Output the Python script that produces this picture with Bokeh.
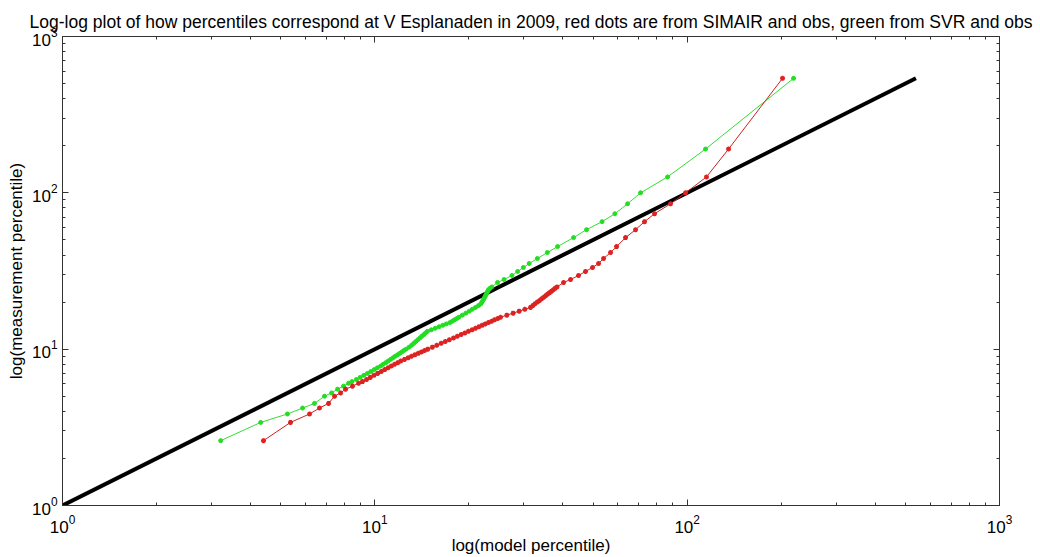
from bokeh.plotting import figure
from bokeh.models import LogAxis, FixedTicker, LogTickFormatter, Range1d
from bokeh.embed import file_html
from bokeh.resources import INLINE

# shared measured (obs) percentiles
obs_percentile = [2.6, 3.4, 3.85, 4.2, 4.5, 5.0, 5.25, 5.55, 5.8, 6.05,
                  6.2, 6.4, 6.6, 6.8, 7.0, 7.2, 7.4, 7.6, 7.8, 8.0, 8.2, 8.4, 8.6, 8.8, 9.0, 9.2, 9.4, 9.6, 9.8, 10.0,
                  10.3, 10.6, 10.9, 11.2, 11.5, 11.8, 12.1, 12.4, 12.7, 13.0, 13.3, 13.6, 13.9, 14.2, 14.5, 14.8, 15.1, 15.4, 15.7, 16.0,
                  16.5, 17.0, 17.5, 18.0, 18.5, 19.0, 19.5, 20.0, 20.5, 21.0, 21.5, 22.0, 22.5, 23.0, 23.5, 24.0, 24.5, 25.0,
                  26.7, 27.9, 29.6, 31.4, 33.3, 35.3, 38.0, 41.5, 45.3, 51.7, 58.1, 65.4, 73.5, 85.1, 100.0, 126.4, 190.6, 540.0]

# SVR model percentiles (green)
svr_percentile = [3.21, 4.31, 5.25, 5.87, 6.41, 6.90, 7.27, 7.60, 7.94, 8.24,
                  8.45, 8.73, 8.98, 9.22, 9.47, 9.71, 9.96, 10.19, 10.44, 10.64, 10.84, 11.04, 11.23, 11.43, 11.62, 11.82, 12.02, 12.20, 12.39, 12.59,
                  12.87, 13.12, 13.33, 13.53, 13.74, 13.95, 14.14, 14.36, 14.54, 14.74, 15.17, 15.61, 16.05, 16.49, 16.93, 17.39, 17.71, 17.99, 18.30, 18.58,
                  19.06, 19.56, 20.06, 20.52, 21.01, 21.48, 21.85, 22.03, 22.19, 22.34, 22.48, 22.61, 22.74, 22.86, 22.99, 23.11, 23.37, 23.68,
                  24.71, 25.93, 27.48, 28.66, 29.89, 31.20, 33.14, 35.68, 38.46, 43.27, 47.62, 53.40, 58.69, 64.45, 70.93, 86.54, 114.5, 219.1]

# SIMAIR model percentiles (red)
simair_percentile = [4.40, 5.37, 6.18, 6.65, 7.11, 7.43, 7.77, 8.06, 8.48, 8.87,
                     9.13, 9.41, 9.67, 9.94, 10.21, 10.49, 10.76, 11.03, 11.30, 11.57, 11.84, 12.11, 12.44, 12.78, 13.10, 13.43, 13.77, 14.10, 14.43, 14.77,
                     15.28, 15.79, 16.31, 16.81, 17.32, 17.86, 18.37, 18.90, 19.42, 19.94, 20.49, 21.01, 21.54, 22.06, 22.57, 23.11, 23.66, 24.16, 24.75, 25.26,
                     26.46, 27.72, 28.98, 30.22, 31.51, 32.06, 32.58, 33.14, 33.69, 34.20, 34.74, 35.25, 35.77, 36.28, 36.80, 37.28, 37.79, 38.30,
                     40.20, 42.33, 44.89, 47.27, 49.78, 52.04, 53.99, 56.85, 59.42, 63.49, 68.35, 73.03, 78.62, 88.48, 98.81, 115.3, 135.7, 202.0]

identity = [1, 540]

major_ticks = [1, 10, 100, 1000]
minor_ticks = [2, 3, 4, 5, 6, 7, 8, 9, 20, 30, 40, 50, 60, 70, 80, 90, 200, 300, 400, 500, 600, 700, 800, 900]

FONT = "Liberation Sans"

p = figure(width=1040, height=557, x_axis_type="log", y_axis_type="log",
           x_range=Range1d(1, 1000), y_range=Range1d(1, 1000),
           output_backend="svg", toolbar_location=None,
           min_border_left=62, min_border_right=41, min_border_top=36, min_border_bottom=50)

p.title.text = "Log-log plot of how percentiles correspond at V Esplanaden in 2009, red dots are from SIMAIR and obs, green from SVR and obs"
p.title.text_font = FONT
p.title.text_font_size = "17.5px"
p.title.text_font_style = "normal"
p.title.align = "center"
p.title.text_color = "black"
p.title.standoff = 9

p.xgrid.visible = False
p.ygrid.visible = False
p.outline_line_color = "#333333"
p.background_fill_color = "white"
p.border_fill_color = "white"

def style_axis(ax, show_labels=True):
    ax.ticker = FixedTicker(ticks=major_ticks, minor_ticks=minor_ticks)
    ax.formatter = LogTickFormatter()
    ax.major_tick_in = 6
    ax.major_tick_out = 0
    ax.minor_tick_in = 3
    ax.minor_tick_out = 0
    ax.axis_line_color = "#333333"
    ax.major_tick_line_color = "#333333"
    ax.minor_tick_line_color = "#333333"
    ax.major_label_text_font = FONT
    ax.major_label_text_color = "black"
    if show_labels:
        ax.major_label_text_font_size = "17px"
    else:
        ax.major_label_text_font_size = "1px"
        ax.major_label_text_alpha = 0
        ax.major_label_standoff = 0

style_axis(p.xaxis[0])
style_axis(p.yaxis[0])
p.xaxis[0].axis_label = "log(model percentile)"
p.yaxis[0].axis_label = "log(measurement percentile)"
for ax in (p.xaxis[0], p.yaxis[0]):
    ax.axis_label_text_font = FONT
    ax.axis_label_text_font_size = "17px"
    ax.axis_label_text_font_style = "normal"
    ax.axis_label_text_color = "black"
p.xaxis[0].major_label_standoff = 9
p.xaxis[0].axis_label_standoff = 0
p.yaxis[0].major_label_standoff = 5
p.yaxis[0].axis_label_standoff = 3

ax_top = LogAxis()
style_axis(ax_top, show_labels=False)
p.add_layout(ax_top, "above")
ax_right = LogAxis()
style_axis(ax_right, show_labels=False)
p.add_layout(ax_right, "right")

# identity line
p.line(identity, identity, line_color="black", line_width=4)

# SVR (green)
p.line(svr_percentile, obs_percentile, line_color="#33dd33", line_width=1)
p.scatter(svr_percentile, obs_percentile, marker="circle", size=4,
          fill_color="#22dd22", line_color="#22dd22")

# SIMAIR (red)
p.line(simair_percentile, obs_percentile, line_color="#cc2222", line_width=1)
p.scatter(simair_percentile, obs_percentile, marker="asterisk", size=5,
          line_color="#dd2222", line_width=1.5)

open("out.html", "w").write(file_html(p, INLINE))
